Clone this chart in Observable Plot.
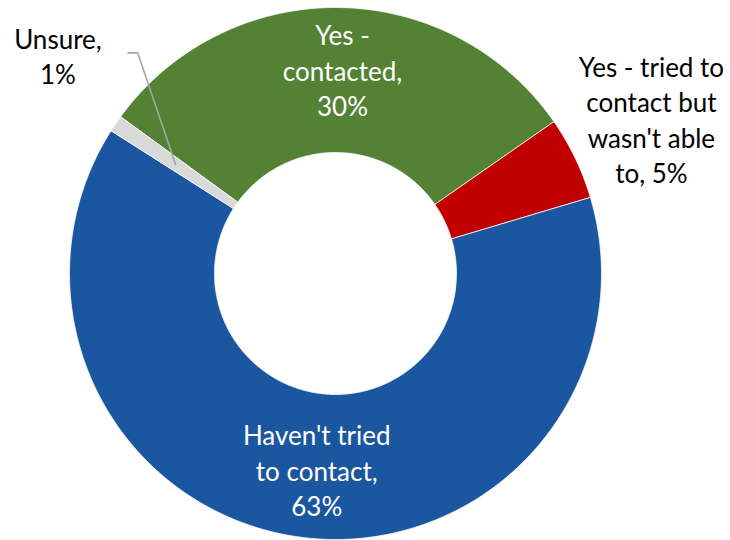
<!DOCTYPE html>
<html><head><meta charset="utf-8">
<script src="https://cdn.jsdelivr.net/npm/d3@7"></script>
<script src="https://cdn.jsdelivr.net/npm/@observablehq/plot@0.6"></script>
<style>html,body{margin:0;padding:0;background:#fff}</style>
</head><body><div id="chart"></div>
<script>
// ---- data ----
const categories = ["Yes - contacted", "Yes - tried to contact but wasn't able to", "Haven't tried to contact", "Unsure"];
const values = [30, 5, 63, 1];
const labels = ["Yes -\ncontacted,\n30%", "Yes - tried to\ncontact but\nwasn't able\nto, 5%", "Haven't tried\nto contact,\n63%", "Unsure,\n1%"];
const colors = ["#548235", "#C00000", "#1B57A1", "#D9D9D9"];

// ---- geometry (first slice angle, radii in scale units) ----
const startDeg = 306.1;
const R = 266, r0 = 121, rc = (R + r0) / 2;
const total = d3.sum(values);
const rad = d => d * Math.PI / 180;
const pt = (deg, rr) => ({x: rr * Math.sin(rad(deg)), y: -rr * Math.cos(rad(deg))});

let acc = startDeg;
const slices = values.map((v, i) => {
  const a0 = acc, a1 = acc + v / total * 360;
  acc = a1;
  return {cat: categories[i], label: labels[i], a0, a1, mid: (a0 + a1) / 2};
});

const poly = [];
for (const s of slices) {
  const n = Math.max(4, Math.ceil((s.a1 - s.a0) / 0.5));
  const outer = d3.range(n + 1).map(k => s.a0 + (s.a1 - s.a0) * k / n);
  for (const a of outer) poly.push({cat: s.cat, ...pt(a, R)});
  for (const a of outer.slice().reverse()) poly.push({cat: s.cat, ...pt(a, r0)});
  poly.push({cat: s.cat, ...pt(s.a0, R)});
}

const cent = slices.map(s => ({cat: s.cat, label: s.label, ...pt(s.mid, rc)}));
const u = cent[3];
const leader = [
  {x: u.x, y: u.y},
  {x: u.x - 37.9, y: u.y - 111.6},
  {x: u.x - 47.5, y: u.y - 111.6}
];

const font = {fontFamily: "Lato, 'Open Sans', sans-serif", fontSize: 26, lineHeight: 1.365, textAnchor: "middle", lineAnchor: "middle"};

const chart = Plot.plot({
  width: 730, height: 540,
  margin: 0,
  x: {domain: [-335, 395], range: [0, 730], axis: null},
  y: {domain: [-273, 267], range: [0, 540], axis: null},
  color: {domain: categories, range: colors},
  style: {background: "#fff"},
  marks: [
    Plot.line(poly, {x: "x", y: "y", z: "cat", fill: "cat", stroke: "white", strokeWidth: 0.75, curve: "linear"}),
    Plot.line(leader, {x: "x", y: "y", stroke: "#A6A6A6", strokeWidth: 1.6}),
    Plot.text([cent[0]], {x: "x", y: "y", text: "label", fill: "white", dx: 4.8, dy: -10.5, ...font}),
    Plot.text([cent[1]], {x: "x", y: "y", text: "label", fill: "black", dx: 141.6, dy: -71, ...font}),
    Plot.text([cent[2]], {x: "x", y: "y", text: "label", fill: "white", dx: 7.9, dy: 4, ...font}),
    Plot.text([cent[3]], {x: "x", y: "y", text: "label", fill: "black", dx: -117.7, dy: -109.4, ...font})
  ]
});
document.getElementById("chart").appendChild(chart);
</script>
</body></html>
